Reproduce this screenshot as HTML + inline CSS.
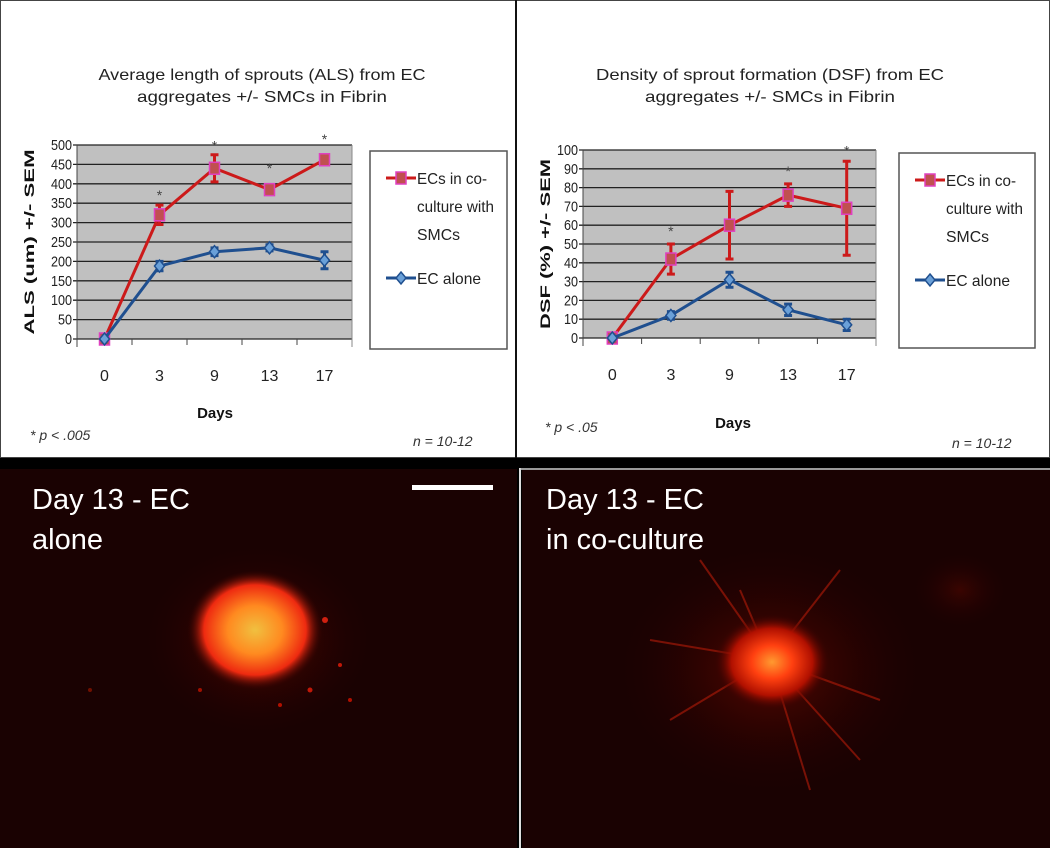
<!DOCTYPE html>
<html><head><meta charset="utf-8"><style>
html,body{margin:0;padding:0;background:#000;}
svg{display:block;font-family:"Liberation Sans",sans-serif;}
</style></head><body>
<svg id="root" width="1050" height="848" viewBox="0 0 1050 848" xmlns="http://www.w3.org/2000/svg">
<defs>
<radialGradient id="g1" cx="50%" cy="50%" r="50%">
<stop offset="0" stop-color="#f0c040"/><stop offset="0.4" stop-color="#ff8a20"/><stop offset="0.75" stop-color="#ee2a10"/><stop offset="1" stop-color="#300000" stop-opacity="0"/>
</radialGradient>
<radialGradient id="g2" cx="50%" cy="50%" r="50%">
<stop offset="0" stop-color="#ff9a30"/><stop offset="0.35" stop-color="#ff4010"/><stop offset="0.7" stop-color="#b01000"/><stop offset="1" stop-color="#300000" stop-opacity="0"/>
</radialGradient>
<radialGradient id="halo" cx="50%" cy="50%" r="50%">
<stop offset="0" stop-color="#6a0800" stop-opacity="0.8"/><stop offset="1" stop-color="#1a0000" stop-opacity="0"/>
</radialGradient>
</defs>
<rect x="0" y="0" width="1050" height="458" fill="#fff"/>
<rect x="0.5" y="0.5" width="1049" height="457" fill="none" stroke="#444" stroke-width="1"/>
<line x1="516" y1="0" x2="516" y2="458" stroke="#111" stroke-width="2"/>
<g id="c1"></g>
<g id="c2"></g>
<rect x="0" y="458" width="1050" height="390" fill="#000"/>
<g>
<rect x="0" y="469" width="517" height="379" fill="#1a0202"/>
<ellipse cx="258" cy="640" rx="120" ry="100" fill="url(#halo)"/>
<ellipse cx="255" cy="630" rx="68" ry="60" fill="url(#g1)"/>
<circle cx="325" cy="620" r="3" fill="#d02010"/><circle cx="310" cy="690" r="2.5" fill="#c01808"/><circle cx="280" cy="705" r="2" fill="#b01000"/><circle cx="340" cy="665" r="2" fill="#c01808"/><circle cx="200" cy="690" r="2" fill="#a01000"/><circle cx="90" cy="690" r="2" fill="#701000"/><circle cx="350" cy="700" r="2" fill="#b01000"/>
<text x="32" y="509" fill="#fff" font-size="29">Day 13 - EC</text>
<text x="32" y="549" fill="#fff" font-size="29">alone</text>
<rect x="412" y="485" width="81" height="5" fill="#fff"/>
</g>
<rect x="517" y="468" width="5" height="380" fill="#000"/>
<line x1="520" y1="468" x2="520" y2="848" stroke="#ddd" stroke-width="2"/>
<line x1="520" y1="469" x2="1050" y2="469" stroke="#ccc" stroke-width="1.5"/>
<g>
<rect x="522" y="470" width="528" height="378" fill="#1a0202"/>
<ellipse cx="770" cy="670" rx="160" ry="130" fill="url(#halo)"/>
<ellipse cx="960" cy="590" rx="50" ry="40" fill="url(#halo)" opacity="0.5"/>
<g stroke="#a01808" stroke-width="2" opacity="0.7">
<line x1="770" y1="660" x2="700" y2="560"/><line x1="770" y1="660" x2="840" y2="570"/><line x1="770" y1="660" x2="880" y2="700"/><line x1="770" y1="660" x2="860" y2="760"/><line x1="770" y1="660" x2="670" y2="720"/><line x1="770" y1="660" x2="740" y2="590"/><line x1="770" y1="660" x2="810" y2="790"/><line x1="770" y1="660" x2="650" y2="640"/>
</g>
<ellipse cx="772" cy="662" rx="58" ry="48" fill="url(#g2)"/>
<text x="546" y="509" fill="#fff" font-size="29">Day 13 - EC</text>
<text x="546" y="549" fill="#fff" font-size="29">in co-culture</text>
</g>
</svg>
<script>
// ALS chart data
const categories = ["0","3","9","13","17"];
const alsCo = [0, 320, 440, 385, 462];
const alsCoErr = [0, 25, 35, 12, 10];
const alsEc = [0, 188, 225, 235, 203];
const alsEcErr = [0, 12, 10, 8, 22];
const alsStars = [false, true, true, true, true];
const alsTicks = [0,50,100,150,200,250,300,350,400,450,500];
// DSF chart data
const dsfCo = [0, 42, 60, 76, 69];
const dsfCoErr = [0, 8, 18, 6, 25];
const dsfEc = [0, 12, 31, 15, 7];
const dsfEcErr = [0, 2, 4, 3, 3];
const dsfStars = [false, true, false, true, true];
const dsfTicks = [0,10,20,30,40,50,60,70,80,90,100];

const NS = "http://www.w3.org/2000/svg";
function mk(parent, tag, attrs, text){
  const e = document.createElementNS(NS, tag);
  for (const k in attrs) e.setAttribute(k, attrs[k]);
  if (text !== undefined) e.textContent = text;
  parent.appendChild(e); return e;
}
function drawChart(g, cfg){
  const {x0,x1,yTop,yBot,ymax,ticks,co,coErr,ec,ecErr,stars,titles,titleX,ytitle,ytitleX,legend,daysX,daysY,pText,pX,pY,nX,nY,starOffsets} = cfg;
  const cw = (x1-x0)/categories.length;
  const X = i => x0 + cw*(i+0.5);
  const Y = v => yBot - (v/ymax)*(yBot-yTop);
  titles.forEach((t,i)=>{
    const e = mk(g,"text",{x:titleX,y:80+i*22,"text-anchor":"middle","font-size":"16",fill:"#222",textLength:cfg.titleLens[i],lengthAdjust:"spacingAndGlyphs"},t);
    
    
  });
  const bg = mk(g,"rect",{x:x0,y:yTop,width:x1-x0,height:yBot-yTop,fill:"#c0c0c0"});
  
  
  ticks.forEach(t=>{
    const y = Y(t);
    const l = mk(g,"line",{x1:x0-4,y1:y,x2:x1,y2:y,stroke:"#222","stroke-width":"1.3"});
    
    
    const tx = mk(g,"text",{x:x0-5,y:y+5,"text-anchor":"end","font-size":"15",fill:"#222",textLength:String(t).length*7,lengthAdjust:"spacingAndGlyphs"},String(t));
    
    
  });
  mk(g,"line",{x1:x0,y1:yTop,x2:x0,y2:yBot+8,stroke:"#444","stroke-width":"1"});
  mk(g,"line",{x1:x1,y1:yTop,x2:x1,y2:yBot+8,stroke:"#888","stroke-width":"1"});
  for(let i=1;i<categories.length;i++) mk(g,"line",{x1:x0+cw*i,y1:yBot,x2:x0+cw*i,y2:yBot+6,stroke:"#444"});
  categories.forEach((c,i)=>{
    const t = mk(g,"text",{x:X(i),y:yBot+42,"text-anchor":"middle","font-size":"16",fill:"#222"},c);
    
    
  });
  const yt = mk(g,"text",{x:0,y:0,transform:`translate(${ytitleX},${(yTop+yBot)/2}) rotate(-90)`,"text-anchor":"middle","font-size":"14","font-weight":"bold",fill:"#111",textLength:cfg.ytLen,lengthAdjust:"spacingAndGlyphs"},ytitle);
  
  
  const dx = mk(g,"text",{x:daysX,y:daysY,"text-anchor":"middle","font-size":"15","font-weight":"bold",fill:"#111"},"Days");
  
  
  const pt = mk(g,"text",{x:pX,y:pY,"font-size":"14","font-style":"italic",fill:"#333"},pText);
  
  
  const nt = mk(g,"text",{x:nX,y:nY,"font-size":"14","font-style":"italic",fill:"#333"},"n = 10-12");
  
  
  function series(vals, errs, color, kind, name){
    const pts = vals.map((v,i)=>X(i)+","+Y(v)).join(" ");
    const pl = mk(g,"polyline",{points:pts,fill:"none",stroke:color,"stroke-width":"3"});
    
    
    vals.forEach((v,i)=>{
      if(errs[i]>0){
        const eb = mk(g,"path",{d:`M${X(i)} ${Y(v+errs[i])}V${Y(v-errs[i])}M${X(i)-4} ${Y(v+errs[i])}h8M${X(i)-4} ${Y(v-errs[i])}h8`,stroke:color,"stroke-width":"3",fill:"none"});
        
        
      }
      let m;
      if(kind==="sq") m = mk(g,"rect",{x:X(i)-5,y:Y(v)-6,width:10,height:12,fill:"#c05050",stroke:"#e040c0","stroke-width":"1.5"});
      else m = mk(g,"path",{d:`M${X(i)} ${Y(v)-6}l5 6l-5 6l-5 -6z`,fill:"#6aa0d8",stroke:"#1f4f8f","stroke-width":"1.5"});
      
      
    });
  }
  series(co, coErr, "#cc1a1a", "sq", "coculture");
  series(ec, ecErr, "#1f4f8f", "di", "ec-alone");
  stars.forEach((s,i)=>{
    if(!s) return;
    const st = mk(g,"text",{x:X(i),y:Y(co[i]+coErr[i])-starOffsets[i],"text-anchor":"middle","font-size":"14",fill:"#444"},"*");
    
    
  });
  const lb = mk(g,"rect",{x:legend.x,y:legend.y,width:legend.w,height:legend.h,fill:"#fff",stroke:"#555","stroke-width":"1.5"});
  
  
  const lx = legend.x+16, ly = legend.y+27;
  mk(g,"line",{x1:lx,y1:ly,x2:lx+30,y2:ly,stroke:"#cc1a1a","stroke-width":"3"});
  mk(g,"rect",{x:lx+10,y:ly-6,width:10,height:12,fill:"#c05050",stroke:"#e040c0","stroke-width":"1.5"});
  ["ECs in co-","culture with","SMCs"].forEach((t,i)=>{
    const e = mk(g,"text",{x:lx+31,y:ly+6+i*28,"font-size":"16",fill:"#222",textLength:[70,77,43][i],lengthAdjust:"spacingAndGlyphs"},t);
    
    
  });
  const ly2 = ly+100;
  mk(g,"line",{x1:lx,y1:ly2,x2:lx+30,y2:ly2,stroke:"#1f4f8f","stroke-width":"3"});
  mk(g,"path",{d:`M${lx+15} ${ly2-6}l5 6l-5 6l-5 -6z`,fill:"#6aa0d8",stroke:"#1f4f8f","stroke-width":"1.5"});
  const e2 = mk(g,"text",{x:lx+31,y:ly2+6,"font-size":"16",fill:"#222",textLength:64,lengthAdjust:"spacingAndGlyphs"},"EC alone");
  
  
}
drawChart(document.getElementById("c1"),{
  x0:77,x1:352,yTop:145,yBot:339,ymax:500,ticks:alsTicks,co:alsCo,coErr:alsCoErr,ec:alsEc,ecErr:alsEcErr,stars:alsStars,
  titles:["Average length of sprouts (ALS) from EC","aggregates +/- SMCs in Fibrin"],titleLens:[327,250],titleX:262,
  ytitle:"ALS (um) +/- SEM",ytitleX:34,ytLen:185,legend:{x:370,y:151,w:137,h:198},
  daysX:215,daysY:418,pText:"* p < .005",pX:30,pY:440,nX:413,nY:446,starOffsets:[0,5,4,12,12]
});
drawChart(document.getElementById("c2"),{
  x0:583,x1:876,yTop:150,yBot:338,ymax:100,ticks:dsfTicks,co:dsfCo,coErr:dsfCoErr,ec:dsfEc,ecErr:dsfEcErr,stars:dsfStars,
  titles:["Density of sprout formation (DSF) from EC","aggregates +/- SMCs in Fibrin"],titleLens:[348,250],titleX:770,
  ytitle:"DSF (%) +/- SEM",ytitleX:550,ytLen:170,legend:{x:899,y:153,w:136,h:195},
  daysX:733,daysY:428,pText:"* p < .05",pX:545,pY:432,nX:952,nY:448,starOffsets:[0,8,0,8,6]
});
</script>
</body></html>
